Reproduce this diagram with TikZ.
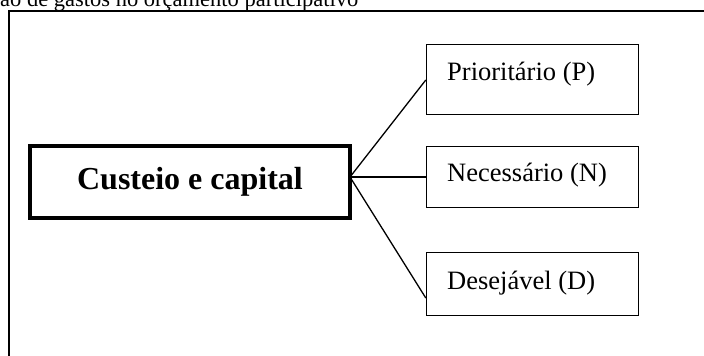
\documentclass[tikz,border=0pt]{standalone}
\usepackage{fontspec}
\setmainfont{Liberation Serif}
\usetikzlibrary{calc}
\begin{document}
\begin{tikzpicture}[x=1pt,y=-1pt,
  frame/.style={line width=2pt},
  mainbox/.style={draw, line width=4pt, inner sep=0pt, minimum width=320pt, minimum height=72pt,
    font=\fontsize{32}{38}\selectfont\bfseries},
  catbox/.style={draw, line width=1.4pt, inner sep=0pt, minimum width=212pt},
  catlabel/.style={anchor=base west, inner sep=0pt, font=\fontsize{26.5}{32}\selectfont},
  link/.style={line width=1.3pt}]
\useasboundingbox (0,0) rectangle (704,356);
\clip (0,0) rectangle (704,356);
% caption line running off the top edge
\node[anchor=base west, inner sep=0pt, font=\fontsize{22.5}{27}\selectfont] (title) at (0,6)
  {ão de gastos no orçamento participativo};
% open frame: left and top sides
\draw[frame] (9,356) -- (9,11) -- (704,11);
% central box
\node[mainbox] (main) at (190,182) {Custeio e capital};
\coordinate (hub) at (350,177);
% category boxes
\node[catbox, minimum height=70pt] (pbox) at (532.5,79.5) {};
\node[catbox, minimum height=60.5pt] (nbox) at (532.5,177) {};
\node[catbox, minimum height=62.5pt] (dbox) at (532.5,284) {};
\node[catlabel] (plabel) at (447,80) {Prioritário (P)};
\node[catlabel] (nlabel) at (447,181.5) {Necessário (N)};
\node[catlabel] (dlabel) at (447,289) {Desejável (D)};
% connectors
\draw[link] (hub) -- ($(pbox.west)+(0,0.5)$);
\draw[link] (hub) -- (nbox.west);
\draw[link] (hub) -- ($(dbox.west)+(0,14)$);
\end{tikzpicture}
\end{document}
